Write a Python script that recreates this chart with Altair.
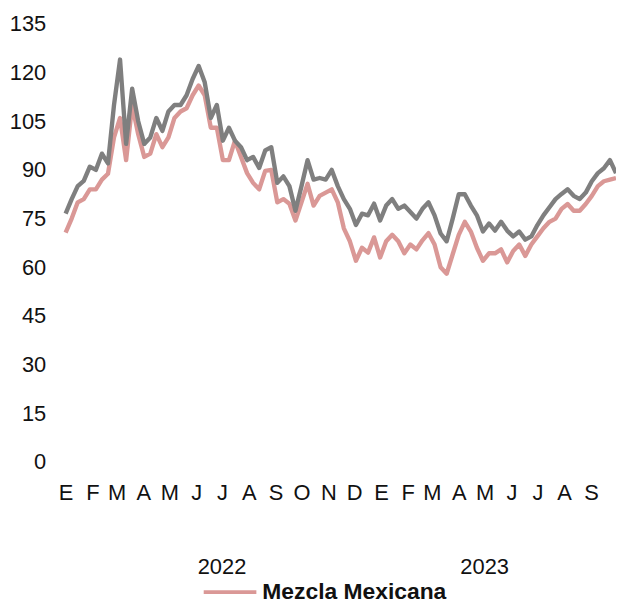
import altair as alt
import pandas as pd

# Weekly readings, first week of Jan 2022 to end of Sep 2023 (US$/barrel)
start_date = "2022-01-01"
mezcla = [70.7, 75, 80, 81, 84, 84, 87, 88.8, 100, 106, 93, 110, 101, 94, 95, 101, 97, 100,
          106, 108, 109, 113, 116, 113, 103, 103, 93, 93, 99, 94, 89, 86, 84, 89.7, 90, 80,
          81, 79.6, 74.4, 80, 85.7, 79, 82, 83, 84, 80, 72, 68, 62, 66, 64.5, 69.2, 63, 68,
          70, 68, 64.3, 67, 65.5, 68.3, 70.5, 67, 60, 58, 64, 70, 74, 71, 66, 62, 64.3, 64.3,
          65.5, 61.5, 65, 67, 63.5, 67, 69.5, 72, 74, 75, 78, 79.5, 77.4, 77.4, 79.5, 82, 85,
          86.5, 87, 87.5]
referencia = [76.5, 81, 85, 86.6, 91, 90, 95, 92, 110, 124, 98, 115, 105, 98, 100, 106, 102, 108,
              110, 110, 113, 118, 122, 117, 106, 110, 99, 103, 99, 97, 93, 94, 90.6, 96, 97, 86,
              88, 85, 77.4, 85, 93, 87, 87.5, 87, 90, 85, 81, 78, 73, 76.5, 76, 79.6, 74.4, 79,
              81, 78, 79, 77, 75, 78, 80, 76, 70.4, 68, 75, 82.5, 82.5, 79, 76, 71, 73.5, 71.3,
              74, 71.3, 69.5, 71, 68.5, 69.5, 73, 76, 78.5, 81, 82.6, 84, 82, 81, 83, 86.5, 89,
              90.5, 93, 89]
series_names = ["Mezcla Mexicana", "Referencia"]
series_colors = ["#da9896", "#7f7f7f"]
month_letters = ["E", "F", "M", "A", "M", "J", "J", "A", "S", "O", "N", "D"]
y_ticks = [0, 15, 30, 45, 60, 75, 90, 105, 120, 135]
year_labels = ["2022", "2023"]
year_label_dates = ["2022-07-01", "2023-05-01"]

dates = pd.date_range(start_date, periods=len(mezcla), freq="7D")
df = pd.concat([
    pd.DataFrame({"fecha": dates, "valor": mezcla, "serie": series_names[0]}),
    pd.DataFrame({"fecha": dates, "valor": referencia, "serie": series_names[1]}),
])
years_df = pd.DataFrame({"fecha": pd.to_datetime(year_label_dates), "anio": year_labels})

FONT = "Liberation Sans"
W, H = 554, 441

label_expr = "[" + ",".join(f"'{c}'" for c in month_letters) + "][month(datum.value)]"

x_scale = alt.Scale(domain=[alt.DateTime(year=2022, month=1, date=1),
                            alt.DateTime(year=2023, month=9, date=30)])
x_enc = alt.X("fecha:T", scale=x_scale, title=None,
              axis=alt.Axis(tickCount={"interval": "month", "step": 1}, labelExpr=label_expr,
                            domain=False, ticks=False, tickSize=0, grid=False, labelPadding=21,
                            labelFlush=False, labelOverlap=False, labelFont=FONT,
                            labelFontSize=22, labelColor="#111111"))
y_enc = alt.Y("valor:Q", scale=alt.Scale(domain=[0, 135], nice=False, zero=True), title=None,
              axis=alt.Axis(values=y_ticks, domain=False, ticks=False, tickSize=0, grid=False,
                            labelPadding=20, labelFlush=False, labelFont=FONT, labelFontSize=22,
                            labelColor="#111111"))
color_enc = alt.Color("serie:N",
                      scale=alt.Scale(domain=series_names, range=series_colors),
                      legend=alt.Legend(values=[series_names[0]], orient="none",
                                        legendX=137, legendY=543.5, title=None,
                                        symbolType="stroke", symbolSize=2809,
                                        symbolStrokeWidth=4, labelOffset=4, padding=0,
                                        labelLimit=0, labelFont=FONT, labelFontSize=23,
                                        labelFontWeight="bold", labelColor="#111111"))

base = alt.Chart(df).mark_line(strokeWidth=4.4, strokeJoin="round").encode(
    x=x_enc, y=y_enc, color=color_enc)
pink = base.transform_filter(alt.datum.serie == series_names[0])
gray = base.transform_filter(alt.datum.serie == series_names[1])

years = alt.Chart(years_df).mark_text(font=FONT, fontSize=22, baseline="middle",
                                      align="center", color="#111111").encode(
    x=alt.X("fecha:T", scale=x_scale), y=alt.value(H + 106), text="anio:N")

chart = alt.layer(pink, gray, years).properties(
    width=W, height=H,
    autosize=alt.AutoSizeParams(type="none"),
    padding={"left": 58, "top": 14, "right": 0, "bottom": 140},
    background="white",
).configure_view(stroke=None)

chart.save("out.html", embed_options={"renderer": "svg", "actions": False})
